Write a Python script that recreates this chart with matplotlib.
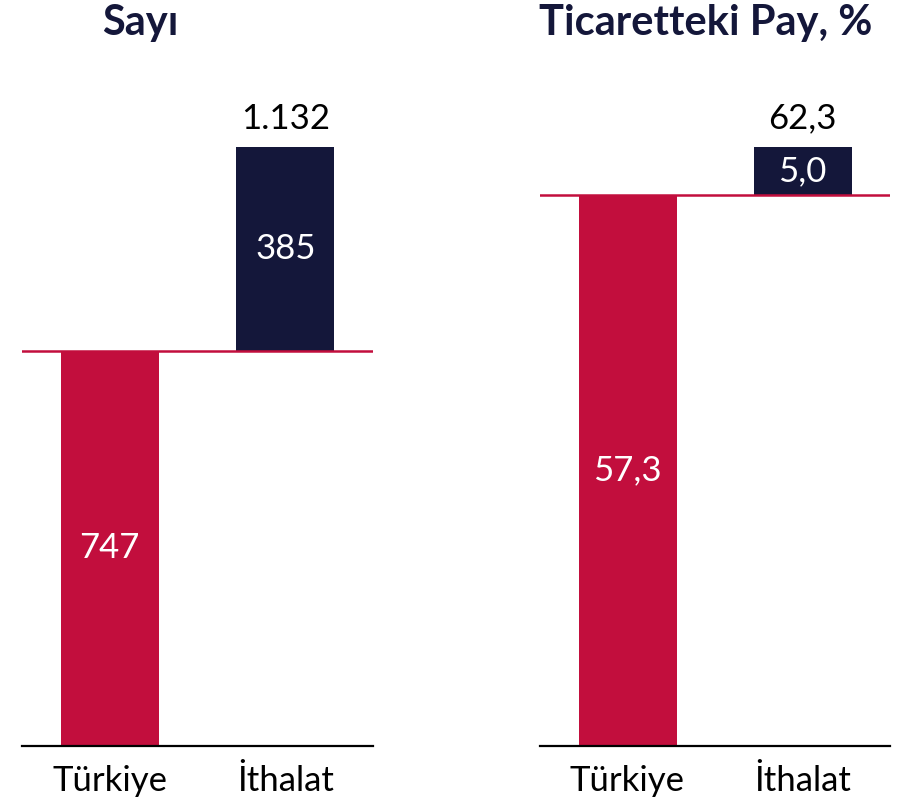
import matplotlib
matplotlib.use("Agg")
import matplotlib.pyplot as plt

plt.rcParams['font.family'] = ['Lato', 'DejaVu Sans']

categories = ["Türkiye", "İthalat"]
sayi_base = 747
sayi_import = 385
sayi_total_label = "1.132"
pay_base = 57.3
pay_import = 5.0
pay_total_label = "62,3"

titles = ["Sayı", "Ticaretteki Pay, %"]
inner_labels = [["747", "385"], ["57,3", "5,0"]]
top_labels = [sayi_total_label, pay_total_label]
panels = [(sayi_base, sayi_import), (pay_base, pay_import)]

RED = "#C20E3D"
NAVY = "#14173A"

fig = plt.figure(figsize=(8.99, 8.07), dpi=100)
axes_rects = [[22/899, 1-746/807, 351/899, 646/807],
              [540/899, 1-746/807, 350/899, 646/807]]
title_x = [140/899, 706/899]

for i, (base, imp) in enumerate(panels):
    ax = fig.add_axes(axes_rects[i])
    total = base + imp
    x = [0, 1]
    ax.bar(0, base, width=0.56, color=RED, zorder=2)
    ax.bar(1, imp, bottom=base, width=0.56, color=NAVY, zorder=2)
    ax.axhline(base, color=RED, lw=1.8, zorder=3)
    ax.set_xlim(-0.5, 1.5)
    ax.set_ylim(0, total * 646 / 599)
    for s in ['top', 'right', 'left']:
        ax.spines[s].set_visible(False)
    ax.spines['bottom'].set_linewidth(1.6)
    ax.spines['bottom'].set_color('black')
    ax.spines['bottom'].set_zorder(4)
    ax.set_yticks([])
    ax.set_xticks(x)
    ax.set_xticklabels(categories, fontsize=25, color='black')
    ax.tick_params(axis='x', length=0, pad=14)
    ax.text(0, base / 2, inner_labels[i][0], ha='center', va='center',
            color='white', fontsize=25, zorder=5)
    ax.text(1, base + imp / 2, inner_labels[i][1], ha='center', va='center',
            color='white', fontsize=25, zorder=5)
    ax.annotate(top_labels[i], xy=(1, total), xytext=(0, 9),
                textcoords='offset points', ha='center', va='bottom',
                fontsize=25, color='black')
    fig.text(title_x[i], 1 - 23/807, titles[i], ha='center', va='center',
             fontsize=30, fontweight='bold', color=NAVY)

fig.savefig("out.png", dpi=100, facecolor='white')
